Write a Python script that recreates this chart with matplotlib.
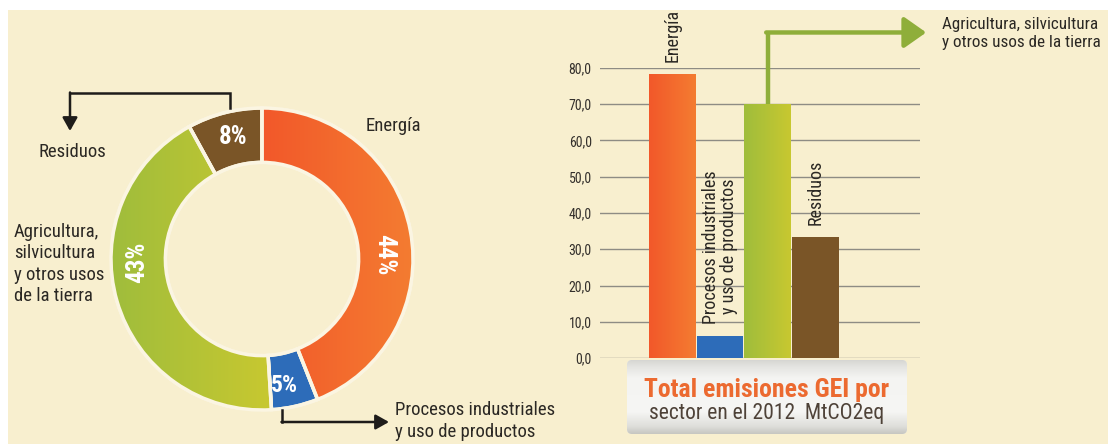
import matplotlib
matplotlib.use("Agg")
import numpy as np
import matplotlib.pyplot as plt
from matplotlib.colors import LinearSegmentedColormap
from matplotlib.patches import FancyBboxPatch, Rectangle, Wedge

# ---- data -------------------------------------------------------------
sectors = ["Energía",
           "Procesos industriales\ny uso de productos",
           "Agricultura,\nsilvicultura\ny otros usos\nde la tierra",
           "Residuos"]
share_pct = [44, 5, 43, 8]                 # donut shares (%)
emissions = [78.3, 6.1, 70.2, 33.3]        # MtCO2eq, 2012
y_ticks = [0, 10, 20, 30, 40, 50, 60, 70, 80]
colors = ["#f26b2e", "#2d6cb9", "#a8c03a", "#7a5527"]
# left/right shades used to give some sectors a soft sheen
shades = {0: ("#f2582a", "#f47c31"), 2: ("#9fbd3c", "#c8c830")}

BG = "#f8efcf"
DARK = "#2b2824"
plt.rcParams["font.family"] = ["Roboto Condensed", "DejaVu Sans"]

W, H = 1108, 444
fig = plt.figure(figsize=(W / 100, H / 100), dpi=100, facecolor=BG)


def fx(px):
    return px / W


def fy(py):
    return 1 - py / H


def sheen(ax, patch, stops, vertical=False, flip=False):
    """Paint a colour gradient clipped to a patch."""
    bb = ax.transData.inverted().transform_bbox(patch.get_extents())
    cmap = LinearSegmentedColormap.from_list("g", stops)
    ramp = np.linspace(0, 1, 256)
    img = ramp[:, None] if vertical else ramp[None, :]
    y_lo, y_hi = (bb.y1, bb.y0) if flip else (bb.y0, bb.y1)
    im = ax.imshow(img, cmap=cmap, extent=[bb.x0, bb.x1, y_lo, y_hi],
                   origin="lower", aspect="auto", interpolation="bilinear",
                   zorder=patch.get_zorder() + 0.01)
    im.set_clip_path(patch)
    return im


# ---- donut ------------------------------------------------------------
cx, cy, R = 262, 259, 151
axp = fig.add_axes([fx(cx - R), fy(cy + R), 2 * R / W, 2 * R / H])
wedges, _ = axp.pie(share_pct, colors=colors, startangle=90,
                    counterclock=False, radius=1.0,
                    wedgeprops=dict(width=0.36, edgecolor="#fbf5e2",
                                    linewidth=2.5))
axp.set_xlim(-1, 1)
axp.set_ylim(-1, 1)
for i, (c1, c2) in shades.items():
    sheen(axp, wedges[i], [c1, c2])
axp.set_xlim(-1, 1)
axp.set_ylim(-1, 1)
axp.set_aspect("equal")
axp.axis("off")
# keep the light separators on top of the gradients
for w in wedges:
    axp.add_patch(Wedge(w.center, w.r, w.theta1, w.theta2, width=w.width,
                        facecolor="none", edgecolor="#fbf5e2",
                        linewidth=2.5, zorder=5))

# ---- bar chart --------------------------------------------------------
x0, x1 = 600, 920
y0, y80 = 358, 68
axb = fig.add_axes([fx(x0), fy(y0), (x1 - x0) / W, (y0 - y80) / H])
axb.set_facecolor("none")
xs = list(range(len(emissions)))
bars = axb.bar(xs, emissions, width=0.98, color=colors, zorder=3)
axb.set_xlim(-1.52, 5.2)
axb.set_ylim(0, 80)
for i, (c1, c2) in shades.items():
    sheen(axb, bars[i], [c1, c2])
axb.set_xlim(-1.52, 5.2)
axb.set_ylim(0, 80)
axb.set_yticks(y_ticks)
axb.set_yticklabels([f"{v:.1f}".replace(".", ",") for v in y_ticks],
                    fontsize=10, color="#34302c")
axb.tick_params(axis="y", length=0, pad=6)
axb.set_xticks([])
axb.grid(axis="y", color="#8e8c84", linewidth=1.0, zorder=0)
axb.set_axisbelow(True)
for s in axb.spines.values():
    s.set_visible(False)

# rotated category names above the bars
for i in (0, 1, 3):
    axb.text(xs[i], emissions[i] + 3.4, sectors[i], rotation=90,
             ha="center", va="bottom", fontsize=13, color=DARK,
             linespacing=1.0)

# green arrow leading from the agriculture bar to its label
g = "#8fae3a"
top = 89.8
axb.plot([xs[2], xs[2]], [emissions[2], top], color=g, lw=3.2,
         clip_on=False, solid_capstyle="butt", zorder=4)
axb.annotate("", xy=(5.33, top), xytext=(xs[2] - 0.03, top),
             annotation_clip=False,
             arrowprops=dict(arrowstyle="-|>,head_length=1.35,head_width=0.95",
                             color=g, lw=3.2, shrinkA=0, shrinkB=0))

# ---- overlay in pixel coordinates -------------------------------------
ov = fig.add_axes([0, 0, 1, 1], zorder=5)
ov.axis("off")
ov.patch.set_visible(False)

# white page margins
ov.add_patch(Rectangle((0, 0), W, 10, color="white", lw=0))
ov.add_patch(Rectangle((0, 0), 8, H, color="white", lw=0))

# title box under the bars
box = FancyBboxPatch((627, 360), 280, 74,
                     boxstyle="round,pad=0,rounding_size=5",
                     facecolor="#efefec", edgecolor="none", zorder=2)
ov.add_patch(box)
ov.set_xlim(0, W)
ov.set_ylim(H, 0)
sheen(ov, box, [(0.0, "#d4d4d0"), (0.10, "#e4e4e1"), (0.25, "#f4f4f2"),
                (0.70, "#f6f6f4"), (0.90, "#dedeDA"), (1.0, "#c6c6c1")],
      vertical=True, flip=True)
ov.set_xlim(0, W)
ov.set_ylim(H, 0)
ov.set_aspect("auto")
ov.text(767, 390, "Total emisiones GEI por", ha="center", va="center",
        fontsize=18.5, fontweight="bold", color="#ec6a30", zorder=4)
ov.text(767, 413, "sector en el 2012  MtCO2eq", ha="center", va="center",
        fontsize=15.5, color="#4e4238", zorder=4)

# percentage labels inside the ring
pct = dict(color="white", fontweight="bold", fontsize=18,
           ha="center", va="center")
ov.text(384, 255, f"{share_pct[0]}%", rotation=-90, **pct)
ov.text(284, 385, f"{share_pct[1]}%", **{**pct, "fontsize": 17})
ov.text(137, 262, f"{share_pct[2]}%", rotation=90, **pct)
ov.text(233, 137, f"{share_pct[3]}%", **pct)

lab = dict(color=DARK, fontsize=13.5, linespacing=1.25)
ov.text(366, 126, "Energía", ha="left", va="center", **lab)
ov.text(38, 152, "Residuos", ha="left", va="center", **lab)
ov.text(14, 264, sectors[2], ha="left", va="center", **lab)
ov.text(395, 421, "Procesos industriales\ny uso de productos",
        ha="left", va="center", **lab)
ov.text(942, 33, "Agricultura, silvicultura\ny otros usos de la tierra",
        ha="left", va="center", **{**lab, "fontsize": 12.3})

# black leader arrows of the donut
arr = dict(arrowstyle="-|>,head_length=0.8,head_width=0.45",
           color="#1e1c1a", lw=1.8, shrinkA=0, shrinkB=0)
ov.plot([230, 230, 70], [108, 93, 93], color="#1e1c1a", lw=1.8,
        solid_joinstyle="miter")
ov.annotate("", xy=(70, 131), xytext=(70, 92.5), arrowprops=arr)
ov.plot([282, 282], [410, 422], color="#1e1c1a", lw=1.8)
ov.annotate("", xy=(389, 422), xytext=(281.5, 422), arrowprops=arr)

fig.savefig("out.png", dpi=100, facecolor=BG)
